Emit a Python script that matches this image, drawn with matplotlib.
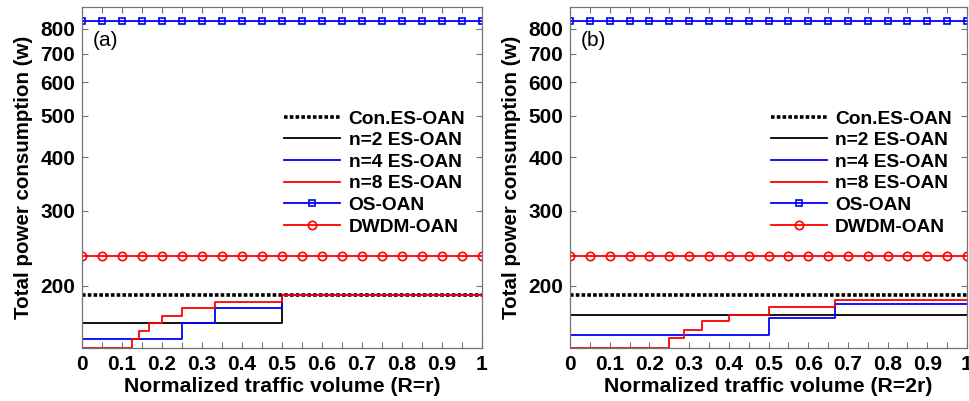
import numpy as np
import matplotlib
matplotlib.use('Agg')
import matplotlib.pyplot as plt
from matplotlib.ticker import FixedLocator, NullLocator, FixedFormatter

plt.rcParams['font.family'] = ['Liberation Sans', 'DejaVu Sans']

# marker series (constant curves)
x_mark = np.linspace(0, 1, 21)
os_oan = 835
dwdm_oan = 235
con_es = 190

# (a) R=r
a_n2_x = [0, 0.5, 1]
a_n2_y = [164, 190, 190]
a_n4_x = [0, 0.25, 0.333, 0.5, 1]
a_n4_y = [150, 164, 177, 190, 190]
a_n8_x = [0, 0.125, 0.143, 0.167, 0.2, 0.25, 0.333, 0.5, 1]
a_n8_y = [143, 150, 157, 164, 170, 177, 183, 190, 190]

# (b) R=2r
b_n2_x = [0, 1]
b_n2_y = [171, 171]
b_n4_x = [0, 0.5, 0.667, 1]
b_n4_y = [153, 168, 181, 181]
b_n8_x = [0, 0.25, 0.286, 0.333, 0.4, 0.5, 0.667, 1]
b_n8_y = [143, 151, 158, 165, 171, 178, 185, 185]

yticks = [200, 300, 400, 500, 600, 700, 800]
xticks = [0, 0.1, 0.2, 0.3, 0.4, 0.5, 0.6, 0.7, 0.8, 0.9, 1]
xlabels = ['0', '0.1', '0.2', '0.3', '0.4', '0.5', '0.6', '0.7', '0.8', '0.9', '1']

fig = plt.figure(figsize=(9.7, 4.01), dpi=100)
ax_a = fig.add_axes([82/970, 53/401, 400/970, 341/401])
ax_b = fig.add_axes([570/970, 53/401, 397/970, 341/401])

panels = [
    (ax_a, '(a)', 'Normalized traffic volume (R=r)', a_n2_x, a_n2_y, a_n4_x, a_n4_y, a_n8_x, a_n8_y),
    (ax_b, '(b)', 'Normalized traffic volume (R=2r)', b_n2_x, b_n2_y, b_n4_x, b_n4_y, b_n8_x, b_n8_y),
]

for ax, tag, xlab, n2x, n2y, n4x, n4y, n8x, n8y in panels:
    ax.plot(x_mark, [con_es]*len(x_mark), color='k', linestyle=(0, (1, 0.6)), linewidth=2.6, label='Con.ES-OAN')
    ax.step(n2x, n2y, where='post', color='k', linewidth=1.3, label='n=2 ES-OAN')
    ax.step(n4x, n4y, where='post', color='#0000ff', linewidth=1.3, label='n=4 ES-OAN')
    ax.step(n8x, n8y, where='post', color='#ff0000', linewidth=1.3, label='n=8 ES-OAN')
    ax.plot(x_mark, [os_oan]*len(x_mark), color='#0000ff', linewidth=1.3, marker='s', markersize=5,
            markerfacecolor='none', markeredgewidth=1.2, label='OS-OAN')
    ax.plot(x_mark, [dwdm_oan]*len(x_mark), color='#ff0000', linewidth=1.3, marker='o', markersize=6,
            markerfacecolor='none', markeredgewidth=1.2, label='DWDM-OAN')

    ax.set_yscale('log')
    ax.set_ylim(143, 900)
    ax.set_xlim(0, 1)
    ax.yaxis.set_major_locator(FixedLocator(yticks))
    ax.yaxis.set_major_formatter(FixedFormatter([str(t) for t in yticks]))
    ax.yaxis.set_minor_locator(NullLocator())
    ax.set_xticks(xticks)
    ax.set_xticklabels(xlabels)
    ax.set_xticks(np.arange(0.05, 1, 0.1), minor=True)
    ax.tick_params(which='both', direction='in', top=True, right=True, length=4,
                   width=0.8, color='0.45', labelsize=15, pad=5)
    for lbl in ax.get_xticklabels() + ax.get_yticklabels():
        lbl.set_fontweight('bold')
    for sp in ax.spines.values():
        sp.set_color('0.45')
        sp.set_linewidth(0.9)

    ax.set_xlabel(xlab, fontsize=15.3, fontweight='bold', labelpad=2)
    ax.set_ylabel('Total power consumption (w)', fontsize=14.8, fontweight='bold', labelpad=5)
    ax.text(0.028, 0.93, tag, transform=ax.transAxes, fontsize=15, va='top', ha='left')

    ax.legend(loc='upper left', bbox_to_anchor=(0.487, 0.72), frameon=False,
              prop={'weight': 'bold', 'size': 13.8}, handlelength=2.9, handletextpad=0.45,
              labelspacing=0.22, borderaxespad=0)

fig.savefig('out.png', dpi=100)
